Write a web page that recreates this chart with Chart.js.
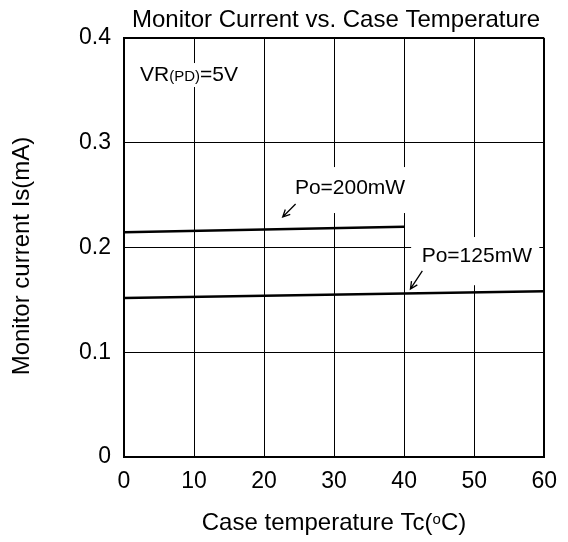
<!DOCTYPE html>
<html lang="en">
<head>
  <meta charset="UTF-8" />
  <title>Monitor Current vs. Case Temperature</title>
  <style>
    html, body { margin: 0; padding: 0; background: #fff; }
  </style>
</head>
<body>
  <canvas id="grafico" width="568" height="542"></canvas>

  <script src="https://cdn.jsdelivr.net/npm/chart.js@4.4.0/dist/chart.umd.min.js"></script>
  <script>
  // dados
  const temp200 = [0, 40];
  const corrente200 = [0.2145, 0.2199];
  const temp125 = [0, 60];
  const corrente125 = [0.1518, 0.1582];
  const ticksX = [0, 10, 20, 30, 40, 50, 60];
  const ticksY = [0, 0.1, 0.2, 0.3, 0.4];

  const fonte = "'Liberation Sans', Arial, sans-serif";
  Chart.defaults.font.family = fonte;
  Chart.defaults.color = '#000';

  function pontos(xs, ys) {
    return xs.map((x, i) => ({ x: x, y: ys[i] }));
  }

  // caixas brancas, textos e setas
  const anotacoes = {
    id: 'anotacoes',
    beforeDatasetsDraw(chart) {
      const { ctx, scales: { x, y } } = chart;
      const caixa = (x0, x1, y0, y1) => {
        const px0 = x.getPixelForValue(x0), px1 = x.getPixelForValue(x1);
        const py0 = y.getPixelForValue(y0), py1 = y.getPixelForValue(y1);
        ctx.fillRect(px0, py0, px1 - px0, py1 - py0);
      };
      ctx.save();
      ctx.fillStyle = '#fff';
      caixa(1.6, 17.2, 0.3761, 0.3532);
      caixa(20.8, 40.8, 0.2768, 0.2329);
      caixa(41.0, 59.3, 0.2100, 0.1640);
      ctx.restore();
    },
    afterDatasetsDraw(chart) {
      const { ctx, chartArea, scales: { x, y } } = chart;
      ctx.save();
      ctx.fillStyle = '#000';
      ctx.strokeStyle = '#000';
      ctx.textBaseline = 'middle';
      ctx.textAlign = 'left';

      // VR(PD)=5V
      let px = x.getPixelForValue(2.3), py = y.getPixelForValue(0.3647);
      ctx.font = '21px ' + fonte;
      ctx.fillText('VR', px, py);
      px += ctx.measureText('VR').width;
      ctx.font = '15px ' + fonte;
      ctx.fillText('(PD)', px, py + 2);
      px += ctx.measureText('(PD)').width;
      ctx.font = '21px ' + fonte;
      ctx.fillText('=5V', px, py);

      ctx.fillText('Po=200mW', x.getPixelForValue(24.4), y.getPixelForValue(0.2568));
      ctx.fillText('Po=125mW', x.getPixelForValue(42.5), y.getPixelForValue(0.1919));

      const seta = (x0, y0, x1, y1) => {
        const ax = x.getPixelForValue(x0), ay = y.getPixelForValue(y0);
        const bx = x.getPixelForValue(x1), by = y.getPixelForValue(y1);
        const ang = Math.atan2(by - ay, bx - ax);
        ctx.lineWidth = 1.3;
        ctx.beginPath();
        ctx.moveTo(ax, ay);
        ctx.lineTo(bx, by);
        ctx.moveTo(bx - 8 * Math.cos(ang - 0.45), by - 8 * Math.sin(ang - 0.45));
        ctx.lineTo(bx, by);
        ctx.lineTo(bx - 8 * Math.cos(ang + 0.45), by - 8 * Math.sin(ang + 0.45));
        ctx.stroke();
      };
      seta(24.5, 0.2415, 22.66, 0.2291);
      seta(42.6, 0.1776, 40.9, 0.1604);

      // título
      ctx.textAlign = 'center';
      ctx.font = '24px ' + fonte;
      ctx.fillText('Monitor Current vs. Case Temperature', (chartArea.left + chartArea.right) / 2 + 2, 20);

      // título do eixo y
      ctx.save();
      ctx.translate(22, 256);
      ctx.rotate(-Math.PI / 2);
      ctx.fillText('Monitor current Is(mA)', 0, 0);
      ctx.restore();

      // título do eixo x com o "o" sobrescrito
      const p1 = 'Case temperature Tc(', p2 = 'o', p3 = 'C)';
      ctx.textAlign = 'left';
      ctx.font = '24px ' + fonte;
      const w1 = ctx.measureText(p1).width, w3 = ctx.measureText(p3).width;
      ctx.font = '15px ' + fonte;
      const w2 = ctx.measureText(p2).width;
      let tx = 334 - (w1 + w2 + w3) / 2;
      const ty = 523;
      ctx.font = '24px ' + fonte;
      ctx.fillText(p1, tx, ty);
      tx += w1;
      ctx.font = '15px ' + fonte;
      ctx.fillText(p2, tx, ty - 3);
      tx += w2;
      ctx.font = '24px ' + fonte;
      ctx.fillText(p3, tx, ty);
      ctx.restore();
    }
  };

  new Chart(document.getElementById('grafico'), {
    type: 'line',
    data: {
      datasets: [
        {
          label: 'Po=200mW',
          data: pontos(temp200, corrente200),
          borderColor: '#000',
          borderWidth: 2.5,
          pointRadius: 0,
          tension: 0
        },
        {
          label: 'Po=125mW',
          data: pontos(temp125, corrente125),
          borderColor: '#000',
          borderWidth: 2.5,
          pointRadius: 0,
          tension: 0
        }
      ]
    },
    options: {
      responsive: false,
      animation: false,
      devicePixelRatio: 1,
      layout: { padding: { top: 38, right: 23, left: 0, bottom: 0 } },
      plugins: {
        legend: { display: false },
        tooltip: { enabled: false }
      },
      scales: {
        x: {
          type: 'linear',
          min: 0,
          max: 60,
          afterFit: s => { s.height = 85; },
          afterBuildTicks: s => { s.ticks = ticksX.map(v => ({ value: v })); },
          ticks: { font: { size: 23 }, padding: 11, color: '#000' },
          grid: {
            color: '#000',
            drawTicks: false,
            lineWidth: c => (c.tick && c.tick.value === 60 ? 2 : 1)
          },
          border: { color: '#000', width: 2 }
        },
        y: {
          type: 'linear',
          min: 0,
          max: 0.4,
          afterFit: s => { s.width = 124; },
          afterBuildTicks: s => { s.ticks = ticksY.map(v => ({ value: v })); },
          ticks: {
            font: { size: 23 },
            padding: 13,
            color: '#000',
            callback: v => (v === 0 ? '0' : v.toFixed(1))
          },
          grid: {
            color: '#000',
            drawTicks: false,
            lineWidth: c => (c.tick && c.tick.value === 0.4 ? 2 : 1)
          },
          border: { color: '#000', width: 2 }
        }
      }
    },
    plugins: [anotacoes]
  });
  </script>
</body>
</html>
